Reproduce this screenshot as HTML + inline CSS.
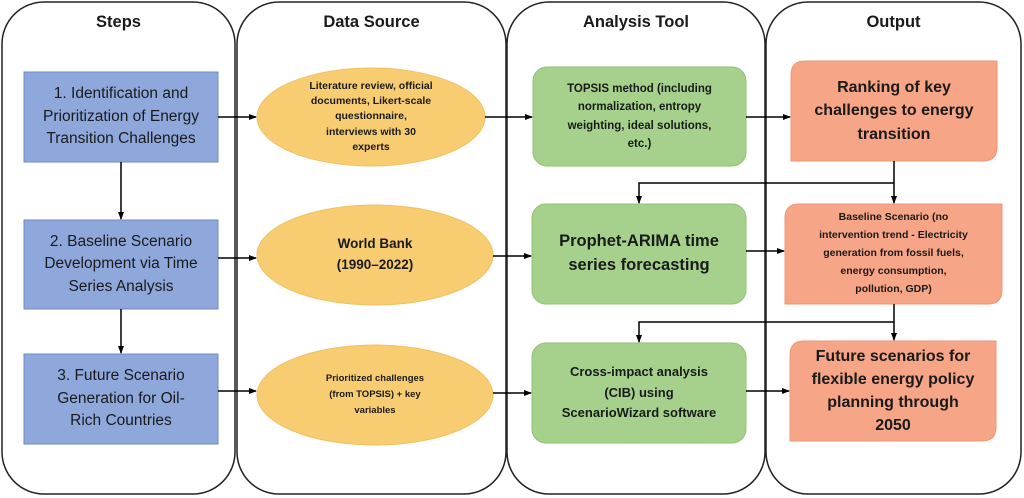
<!DOCTYPE html>
<html><head><meta charset="utf-8"><style>
body{margin:0;width:1024px;height:498px;background:#fff;overflow:hidden;position:relative;font-family:"Liberation Sans",sans-serif}
svg{position:absolute;left:0;top:0}
.t{position:absolute;display:flex;align-items:center;justify-content:center;text-align:center;color:#1a1a1a;line-height:1.2;white-space:nowrap}
.h{font-weight:bold;font-size:16.5px}
.b{font-weight:bold}
</style></head><body>
<svg width="1024" height="498" viewBox="0 0 1024 498">
<defs><marker id="a" markerWidth="8" markerHeight="8" refX="7" refY="4" orient="auto" markerUnits="userSpaceOnUse"><path d="M0,1 L8,4 L0,7z" fill="#000"/></marker></defs>
<g fill="none" stroke="#222" stroke-width="1.5">
<rect x="2" y="2" width="233" height="492" rx="42"/>
<rect x="237" y="2" width="269" height="492" rx="42"/>
<rect x="507" y="2" width="258" height="492" rx="42"/>
<rect x="766" y="2" width="255" height="492" rx="42"/>
</g>
<g fill="#8fa8dc" stroke="#6f8ac4">
<rect x="24" y="72" width="194" height="90"/>
<rect x="24" y="220" width="194" height="89"/>
<rect x="24" y="354" width="194" height="90"/>
</g>
<g fill="#f8cd72" stroke="#f1c060">
<ellipse cx="371" cy="117" rx="114" ry="49"/>
<ellipse cx="375" cy="255" rx="118" ry="50"/>
<ellipse cx="375" cy="395" rx="118" ry="50"/>
</g>
<g fill="#a6d18c" stroke="#8fc172">
<rect x="533" y="67" width="213" height="99" rx="14"/>
<rect x="532" y="204" width="214" height="100" rx="14"/>
<rect x="532" y="343" width="214" height="100" rx="14"/>
</g>
<g fill="#f6a587" stroke="#f09474">
<path d="M805,61 H997 V147 Q997,161 983,161 H791 V75 Q791,61 805,61z"/>
<path d="M799,204 H1002 V290 Q1002,304 988,304 H785 V218 Q785,204 799,204z"/>
<path d="M804,341 H996 V427 Q996,441 982,441 H790 V355 Q790,341 804,341z"/>
</g>
<g stroke="#000" stroke-width="1.5" fill="none" marker-end="url(#a)">
<line x1="218" y1="117" x2="256" y2="117"/>
<line x1="485" y1="117" x2="532" y2="117"/>
<line x1="746" y1="117" x2="790" y2="117"/>
<line x1="218" y1="258" x2="256" y2="258"/>
<line x1="493" y1="256" x2="531" y2="256"/>
<line x1="746" y1="251" x2="784" y2="251"/>
<line x1="218" y1="391" x2="256" y2="391"/>
<line x1="493" y1="393" x2="531" y2="393"/>
<line x1="746" y1="391" x2="789" y2="391"/>
<line x1="121" y1="162" x2="121" y2="219"/>
<line x1="121" y1="309" x2="121" y2="353"/>
<line x1="894" y1="161" x2="894" y2="203"/>
<polyline points="894,183 639,183 639,203"/>
<line x1="894" y1="304" x2="894" y2="340"/>
<polyline points="894,322 639,322 639,342"/>
</g>
</svg>
<div class="t h" style="left:2px;top:10px;width:233px;height:26px">Steps</div>
<div class="t h" style="left:237px;top:10px;width:269px;height:26px">Data Source</div>
<div class="t h" style="left:507px;top:10px;width:258px;height:26px">Analysis Tool</div>
<div class="t h" style="left:766px;top:10px;width:255px;height:26px">Output</div>

<div class="t" style="left:24px;top:72px;width:194px;height:90px;font-size:15.5px;line-height:1.45">1. Identification and<br>Prioritization of Energy<br>Transition Challenges</div>
<div class="t" style="left:24px;top:220px;width:194px;height:89px;font-size:15.5px;line-height:1.45">2. Baseline Scenario<br>Development via Time<br>Series Analysis</div>
<div class="t" style="left:24px;top:354px;width:194px;height:90px;font-size:15.5px;line-height:1.45">3. Future Scenario<br>Generation for Oil-<br>Rich Countries</div>

<div class="t b" style="left:257px;top:68px;width:228px;height:98px;font-size:10.5px;line-height:1.45">Literature review, official<br>documents, Likert-scale<br>questionnaire,<br>interviews with 30<br>experts</div>
<div class="t b" style="left:257px;top:205px;width:236px;height:100px;font-size:13.5px;line-height:1.55">World Bank<br>(1990–2022)</div>
<div class="t b" style="left:257px;top:345px;width:236px;height:100px;font-size:9.5px;line-height:1.65">Prioritized challenges<br>(from TOPSIS) + key<br>variables</div>

<div class="t b" style="left:533px;top:67px;width:213px;height:99px;font-size:11.5px;line-height:1.6">TOPSIS method (including<br>normalization, entropy<br>weighting, ideal solutions,<br>etc.)</div>
<div class="t b" style="left:532px;top:204px;width:214px;height:100px;font-size:16.5px;line-height:1.45">Prophet-ARIMA time<br>series forecasting</div>
<div class="t b" style="left:532px;top:343px;width:214px;height:100px;font-size:13px;line-height:1.6">Cross-impact analysis<br>(CIB) using<br>ScenarioWizard software</div>

<div class="t b" style="left:791px;top:61px;width:206px;height:100px;font-size:16px;line-height:1.45">Ranking of key<br>challenges to energy<br>transition</div>
<div class="t b" style="left:785px;top:204px;width:217px;height:100px;font-size:10.5px;line-height:1.7">Baseline Scenario (no<br>intervention trend - Electricity<br>generation from fossil fuels,<br>energy consumption,<br>pollution, GDP)</div>
<div class="t b" style="left:790px;top:341px;width:206px;height:100px;font-size:16px;line-height:1.45">Future scenarios for<br>flexible energy policy<br>planning through<br>2050</div>
</body></html>
